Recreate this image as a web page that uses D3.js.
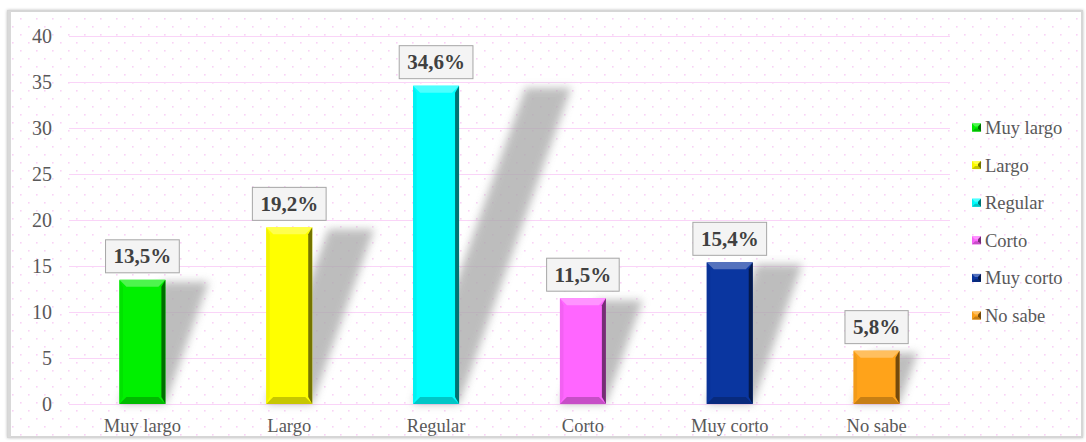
<!DOCTYPE html>
<html>
<head>
<meta charset="utf-8">
<script src="https://cdn.jsdelivr.net/npm/d3@7"></script>
<style>
  html, body { margin: 0; padding: 0; background: #ffffff; }
  svg { display: block; }
  svg text { font-family: "Liberation Serif", "DejaVu Serif", serif; }
</style>
</head>
<body>
<div id="chart"></div>
<script>
// ---- data ----
const categories = ["Muy largo", "Largo", "Regular", "Corto", "Muy corto", "No sabe"];
const values = [13.5, 19.2, 34.6, 11.5, 15.4, 5.8];
const valueLabels = ["13,5%", "19,2%", "34,6%", "11,5%", "15,4%", "5,8%"];
const colors = ["#00f000", "#ffff00", "#00ffff", "#ff66ff", "#0a36a0", "#ffa31a"];
const yTicks = [0, 5, 10, 15, 20, 25, 30, 35, 40];

// ---- layout ----
const W = 1086, H = 442;
const FONT = '"Liberation Serif", "DejaVu Serif", serif';
const svg = d3.select("#chart").append("svg").attr("width", W).attr("height", H);
const defs = svg.append("defs");

// dot pattern
const pat = defs.append("pattern").attr("id", "dots").attr("patternUnits", "userSpaceOnUse")
  .attr("width", 16).attr("height", 16).attr("x", 4).attr("y", 2);
pat.append("rect").attr("x", 0).attr("y", 0).attr("width", 1.6).attr("height", 1.6).attr("fill", "#f9d2f6");
pat.append("rect").attr("x", 8).attr("y", 8).attr("width", 1.6).attr("height", 1.6).attr("fill", "#f9d2f6");

// shadow blur
const blur = defs.append("filter").attr("id", "blur").attr("x", "-30%").attr("y", "-30%").attr("width", "160%").attr("height", "160%");
blur.append("feGaussianBlur").attr("stdDeviation", 4);

const frameShadow = defs.append("filter").attr("id", "fshadow").attr("x", "-5%").attr("y", "-5%").attr("width", "110%").attr("height", "110%");
frameShadow.append("feDropShadow").attr("dx", 0).attr("dy", 0).attr("stdDeviation", 1.5).attr("flood-color", "#000").attr("flood-opacity", 0.25);

// frame
svg.append("rect").attr("x", 8).attr("y", 11).attr("width", 1074).attr("height", 426)
  .attr("fill", "#ffffff").attr("stroke", "#d6d6d6").attr("stroke-width", 2).attr("filter", "url(#fshadow)");
svg.append("rect").attr("x", 9).attr("y", 12).attr("width", 1072).attr("height", 424).attr("fill", "url(#dots)");
svg.append("rect").attr("x", 8).attr("y", 11).attr("width", 3).attr("height", 426).attr("fill", "#d9d9d9");

// scales
const x = d3.scaleBand().domain(categories).range([69, 950]).paddingInner(0.687).paddingOuter(0.3435);
const y = d3.scaleLinear().domain([0, 40]).range([404, 36]);

// gridlines
svg.append("g").selectAll("line").data(yTicks).join("line")
  .attr("x1", 69).attr("x2", 950)
  .attr("y1", d => Math.round(y(d)) + 0.5).attr("y2", d => Math.round(y(d)) + 0.5)
  .attr("stroke", "#fad4f8").attr("stroke-width", 1);

// y axis
const yAxis = svg.append("g").attr("transform", "translate(52,0)")
  .call(d3.axisLeft(y).tickValues(yTicks).tickSize(0).tickPadding(0).tickFormat(d3.format("d")));
yAxis.attr("font-family", FONT).attr("font-size", 20);
yAxis.select(".domain").remove();
yAxis.selectAll("text").style("font-family", FONT).attr("fill", "#595959");

// x axis
const xAxis = svg.append("g").attr("transform", "translate(0,404)")
  .call(d3.axisBottom(x).tickSize(0).tickPadding(15));
xAxis.attr("font-family", FONT).attr("font-size", 18.5);
xAxis.select(".domain").remove();
xAxis.selectAll("text").style("font-family", FONT).attr("fill", "#595959");

// shadows
const k = 0.355;
svg.append("g").selectAll("path").data(categories).join("path")
  .attr("d", (c, i) => {
    const x0 = x(c), x1 = x(c) + x.bandwidth();
    const yt = y(values[i]) + 2, yb = y(0);
    const s = (yb - yt) * k;
    return `M${x0},${yb}L${x1},${yb}L${x1 + s},${yt}L${x0 + s},${yt}Z`;
  })
  .attr("fill", "#a8a8a8").attr("opacity", 0.75).attr("filter", "url(#blur)");

// bevel bar drawing
function bevel(g, x0, y0, w, h, color, b, br) {
  const c = d3.color(color);
  const light = d3.interpolateRgb(color, "#ffffff")(0.3);
  const left = c.darker(0.15).formatHex();
  const bottom = c.darker(0.7).formatHex();
  const right = c.darker(2.2).formatHex();
  g.append("rect").attr("x", x0).attr("y", y0).attr("width", w).attr("height", h).attr("fill", color);
  g.append("path").attr("d", `M${x0},${y0}L${x0 + w},${y0}L${x0 + w - b},${y0 + b}L${x0 + b},${y0 + b}Z`).attr("fill", light);
  g.append("path").attr("d", `M${x0},${y0}L${x0 + b * 0.5},${y0 + b}L${x0 + b * 0.5},${y0 + h - b}L${x0},${y0 + h}Z`).attr("fill", left);
  g.append("path").attr("d", `M${x0},${y0 + h}L${x0 + b},${y0 + h - b}L${x0 + w - b},${y0 + h - b}L${x0 + w},${y0 + h}Z`).attr("fill", bottom);
  g.append("path").attr("d", `M${x0 + w},${y0}L${x0 + w},${y0 + h}L${x0 + w - br},${y0 + h - b}L${x0 + w - br},${y0 + b}Z`).attr("fill", right);
}

const bars = svg.append("g");
categories.forEach((c, i) => {
  const g = bars.append("g");
  bevel(g, x(c), y(values[i]), x.bandwidth(), y(0) - y(values[i]), colors[i], 7, 4);
});

// value labels
const lab = svg.append("g");
categories.forEach((c, i) => {
  const cx = x(c) + x.bandwidth() / 2;
  const bottom = y(values[i]) - 7;
  const t = lab.append("text").attr("x", cx).attr("y", bottom - 9.5)
    .attr("text-anchor", "middle")
    .style("font-family", FONT)
    .attr("font-weight", "bold").attr("font-size", 21).attr("fill", "#404040")
    .text(valueLabels[i]);
  const tw = t.node().getComputedTextLength();
  lab.insert("rect", "text").attr("x", cx - tw / 2 - 8).attr("y", bottom - 33)
    .attr("width", tw + 16).attr("height", 33)
    .attr("fill", "#f4f4f4").attr("stroke", "#a6a6a6").attr("stroke-width", 1);
});

// legend
const leg = svg.append("g");
categories.forEach((c, i) => {
  const cy = 127.5 + i * 37.6;
  const g = leg.append("g");
  bevel(g, 972, cy - 4, 9, 8, colors[i], 3, 3);
  g.append("text").attr("x", 985).attr("y", cy).attr("dy", "0.35em")
    .style("font-family", FONT)
    .attr("font-size", 18.5).attr("fill", "#595959").text(c);
});
</script>
</body>
</html>
